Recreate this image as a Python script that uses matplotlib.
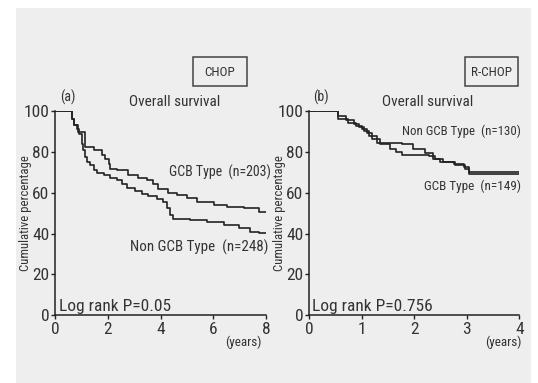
import matplotlib
matplotlib.use("Agg")
import matplotlib.pyplot as plt
from matplotlib.patches import Rectangle
from matplotlib import font_manager

names = {f.name for f in font_manager.fontManager.ttflist}
FONT = 'DejaVu Sans'
for cand in ['Roboto Condensed', 'Liberation Sans Narrow', 'Open Sans Condensed',
             'Noto Sans Condensed', 'Arial Narrow']:
    if cand in names:
        FONT = cand
        break
plt.rcParams['font.family'] = [FONT, 'DejaVu Sans']
plt.rcParams['font.stretch'] = 'condensed'

# ---- data ----
chop_gcb_t = [0, 0.63, 0.72, 0.89, 1.14, 1.46, 1.77, 1.90, 2.03, 2.09, 2.34, 2.78, 3.16, 3.48,
              3.73, 3.92, 4.30, 4.62, 5.00, 5.38, 6.01, 6.52, 7.15, 7.72, 8.0]
chop_gcb_v = [100, 96.3, 93, 89.7, 82.4, 80.8, 78.3, 76.7, 74.3, 71.8, 71, 68.6, 67.4, 66.1,
              64.5, 62, 60, 58.8, 57.2, 55.5, 53.9, 53, 52.3, 50.7, 50.7]
chop_non_t = [0, 0.63, 0.72, 0.85, 0.92, 1.01, 1.08, 1.14, 1.20, 1.33, 1.46, 1.58, 1.84, 2.09,
              2.34, 2.53, 2.72, 3.04, 3.29, 3.54, 3.86, 4.11, 4.24, 4.37, 4.49, 5.13, 5.76,
              6.39, 6.96, 7.41, 7.72, 8.0]
chop_non_v = [100, 96.3, 93, 91, 88.9, 84, 80.8, 77.5, 75, 73.5, 71, 69.7, 68.6, 67.4,
              66.1, 64.5, 62.5, 61, 59.6, 58.3, 56.7, 55.5, 52.3, 49, 46.9, 46.6, 45.8,
              44.1, 42.5, 40.9, 40.1, 40.1]

rchop_non_t = [0, 0.56, 0.70, 0.85, 0.95, 1.05, 1.15, 1.29, 1.76, 1.98, 2.20, 2.36, 2.49,
               2.78, 2.97, 3.04, 4.0]
rchop_non_v = [100, 97.5, 95.5, 93.5, 92, 90, 88, 84.5, 84, 81.6, 79.2, 76.7, 75.1,
               73.5, 71.8, 69.9, 69.9]
rchop_gcb_t = [0, 0.56, 0.75, 0.90, 1.00, 1.10, 1.20, 1.35, 1.54, 1.66, 1.76, 2.29, 2.40,
               2.55, 2.75, 2.95, 3.04, 4.0]
rchop_gcb_v = [100, 96, 94, 92.5, 91, 89, 86.5, 84, 81.6, 80, 78.4, 77.9, 76.5,
               75, 74, 72.5, 69, 69]

W, H = 538, 383
fig = plt.figure(figsize=(W / 100, H / 100), dpi=100)
fig.patch.set_facecolor('white')

def fx(x):
    return x / W

def fy(y):
    return 1 - y / H

# grey panel
fig.patches.append(Rectangle((fx(16), fy(383)), fx(531) - fx(16), fy(8) - fy(383),
                             transform=fig.transFigure, facecolor='#eeeeee',
                             edgecolor='none', zorder=-5))

LC = '#222222'
TC = '#333333'

def make_axes(left_px, right_px, xmax, xticks):
    ax = fig.add_axes([fx(left_px), fy(315.3), fx(right_px) - fx(left_px), fy(111) - fy(315.3)])
    ax.set_zorder(2)
    ax.set_facecolor('none')
    ax.set_xlim(0, xmax)
    ax.set_ylim(0, 100)
    for s in ['top', 'right']:
        ax.spines[s].set_visible(False)
    for s in ['left', 'bottom']:
        ax.spines[s].set_color(LC)
        ax.spines[s].set_linewidth(1.1)
    ax.set_xticks(xticks)
    ax.set_yticks([0, 20, 40, 60, 80, 100])
    ax.tick_params(axis='both', direction='out', length=3, width=1, color=LC,
                   labelsize=12.5, labelcolor=TC)
    ax.tick_params(axis='y', pad=1)
    ax.tick_params(axis='x', pad=1.5)
    return ax

axL = make_axes(55, 266, 8, [0, 2, 4, 6, 8])
axL.step(chop_gcb_t, chop_gcb_v, where='post', color=LC, lw=1.2)
axL.step(chop_non_t, chop_non_v, where='post', color=LC, lw=1.2)

axR = make_axes(309, 519.3, 4, [0, 1, 2, 3, 4])
axR.step(rchop_non_t, rchop_non_v, where='post', color=LC, lw=1.2)
axR.step(rchop_gcb_t, rchop_gcb_v, where='post', color=LC, lw=1.2)

# texts
def t(x, y, s, size, ha='left', va='center', **kw):
    fig.text(fx(x), fy(y), s, fontsize=size, ha=ha, va=va, color=TC, zorder=4, **kw)

t(26, 213, 'Cumulative percentage', 9.2, ha='center', rotation=90)
t(279, 213, 'Cumulative percentage', 9.2, ha='center', rotation=90)

t(60, 97, '(a)', 10)
t(175, 101.5, 'Overall survival', 11, ha='center')
t(271, 172, 'GCB Type  (n=203)', 10, ha='right')
t(268, 247.5, 'Non GCB Type  (n=248)', 10.8, ha='right')
t(59, 306, 'Log rank P=0.05', 12.5)
t(262, 342, '(years)', 9.5, ha='right')

t(313, 97, '(b)', 10)
t(428, 101.5, 'Overall survival', 11, ha='center')
t(521, 131, 'Non GCB Type  (n=130)', 9.3, ha='right')
t(521, 186.5, 'GCB Type  (n=149)', 9.5, ha='right')
t(312, 306, 'Log rank P=0.756', 12.5)
t(521, 342, '(years)', 9.5, ha='right')

# boxes
for (x0, x1, lab) in [(193, 247, 'CHOP'), (465, 518, 'R-CHOP')]:
    fig.patches.append(Rectangle((fx(x0), fy(86)), fx(x1) - fx(x0), fy(57) - fy(86),
                                 transform=fig.transFigure, facecolor='none',
                                 edgecolor='#444444', lw=1.1, zorder=3))
    t((x0 + x1) / 2, 72, lab, 9.5, ha='center')

fig.savefig('out.png', dpi=100)
